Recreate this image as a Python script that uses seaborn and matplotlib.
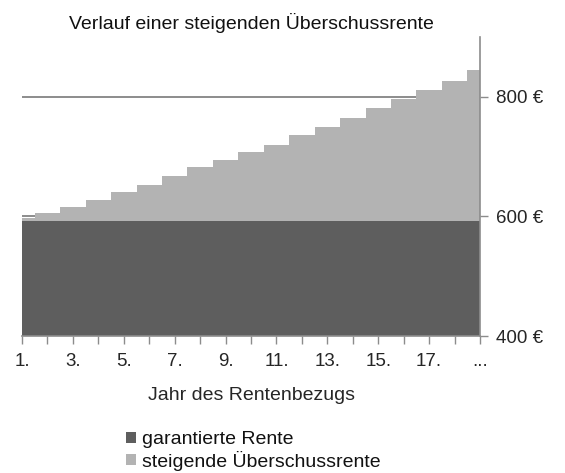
import matplotlib
matplotlib.use("Agg")
import matplotlib.pyplot as plt
import seaborn as sns
import pandas as pd
from matplotlib.ticker import FuncFormatter

# data
jahre = ["1.", "2.", "3.", "4.", "5.", "6.", "7.", "8.", "9.", "10.",
         "11.", "12.", "13.", "14.", "15.", "16.", "17.", "18.", "..."]
gesamt = [597, 606, 615, 628, 641, 652, 668, 682, 694, 707,
          720, 736, 749, 765, 782, 796, 811, 827, 844]
garantiert = [593] * 19
y_ticks = [400, 600, 800]

df = pd.DataFrame({"jahr": jahre, "gesamt": gesamt, "garantiert": garantiert})

sns.set_theme(style="white")
plt.rcParams["font.family"] = ["Liberation Sans", "DejaVu Sans"]
plt.rcParams["text.color"] = "#111111"

fig = plt.figure(figsize=(5.65, 4.73), dpi=100)
ax = fig.add_axes([22 / 565, 1 - 336 / 473, 458 / 565, 299 / 473])

dunkel = "#5e5e5e"
hell = "#b3b3b3"

sns.barplot(data=df, x="jahr", y="gesamt", order=jahre, color=hell,
            width=1.0, saturation=1, linewidth=0, ax=ax,
            label="steigende Überschussrente")
sns.barplot(data=df, x="jahr", y="garantiert", order=jahre, color=dunkel,
            width=1.0, saturation=1, linewidth=0, ax=ax,
            label="garantierte Rente")

ax.set_xlim(0, len(jahre) - 1)
ax.set_ylim(400, 900)

# y axis on the right
ax.yaxis.tick_right()
ax.set_yticks(y_ticks)
ax.yaxis.set_major_formatter(FuncFormatter(lambda v, p: f"{v:.0f} €"))
ax.set_ylabel("")
ax.yaxis.grid(True, color="#8c8c8c", linewidth=1.4)
ax.set_axisbelow(True)

ax.set_xticks(range(len(jahre)))
ax.set_xticklabels([j if i % 2 == 0 else "" for i, j in enumerate(jahre)])
ax.set_xlabel("Jahr des Rentenbezugs", fontsize=14, labelpad=12)

ax.tick_params(axis="both", which="major", direction="out", length=5.5,
               width=1, color="#8c8c8c", labelsize=13.5, pad=7)
ax.tick_params(axis="y", right=True, left=False, pad=6)
ax.tick_params(axis="x", bottom=True)

for s in ["left", "top"]:
    ax.spines[s].set_visible(False)
for s in ["right", "bottom"]:
    ax.spines[s].set_visible(True)
    ax.spines[s].set_color("#8c8c8c")
    ax.spines[s].set_linewidth(1.2)

ax.set_title("Verlauf einer steigenden Überschussrente", fontsize=14, pad=6)

h, l = ax.get_legend_handles_labels()
ax.legend(h[::-1], l[::-1], loc="upper left", bbox_to_anchor=(126 / 565, 1 - 431 / 473),
          bbox_transform=fig.transFigure, frameon=False, fontsize=14,
          handlelength=0.5, handleheight=0.5, handletextpad=0.3,
          labelspacing=0.13, borderpad=0, borderaxespad=0)

fig.savefig("out.png", dpi=100)
